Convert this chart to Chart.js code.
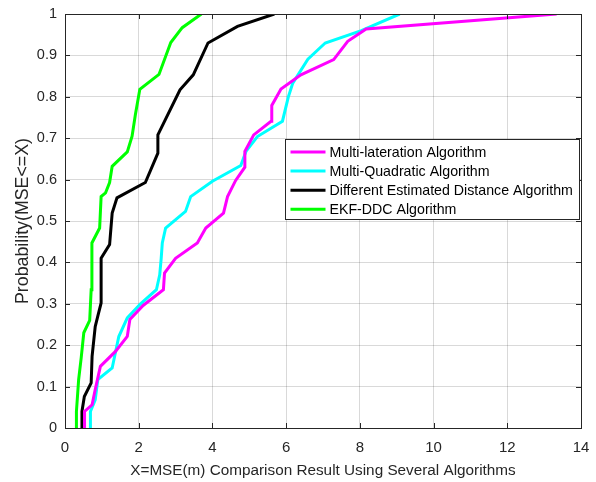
<!DOCTYPE html>
<html>
<head>
<meta charset="utf-8">
<script src="https://cdn.jsdelivr.net/npm/chart.js@4.4.1/dist/chart.umd.min.js"></script>
<style>
  html, body { margin: 0; padding: 0; background: #fff; }
  #wrap { width: 596px; height: 482px; }
</style>
</head>
<body>
<div id="wrap"><canvas id="cdfChart" width="596" height="482"></canvas></div>
<script>
// series names (legend order)
var seriesNames = ['Multi-lateration Algorithm', 'Multi-Quadratic Algorithm',
                   'Different Estimated Distance Algorithm', 'EKF-DDC Algorithm'];
var seriesColors = ['#ff00ff', '#00ffff', '#000000', '#00ff00'];

// Multi-lateration (magenta)
var mlatX = [0.53, 0.53, 0.735, 0.82, 0.96, 1.37, 1.69, 1.76, 2.12, 2.67, 2.70, 3.0, 3.59, 3.82,
             4.30, 4.41, 4.63, 4.88, 4.88, 5.12, 5.59, 5.61, 5.86, 6.40, 7.29, 7.67, 8.17, 13.34];
var mlatY = [0, 0.04, 0.056, 0.093, 0.149, 0.185, 0.221, 0.262, 0.296, 0.334, 0.374, 0.41, 0.447, 0.483,
             0.519, 0.559, 0.598, 0.63, 0.668, 0.708, 0.741, 0.779, 0.819, 0.853, 0.89, 0.934, 0.964, 1.0];

// Multi-Quadratic (cyan)
var mquadX = [0.69, 0.69, 0.82, 0.89, 1.28, 1.46, 1.69, 2.05, 2.48, 2.57, 2.61, 2.64, 2.73, 3.27,
              3.41, 4.0, 4.77, 4.91, 5.22, 5.90, 6.06, 6.18, 6.59, 7.06, 8.04, 9.08];
var mquadY = [0, 0.04, 0.068, 0.117, 0.145, 0.221, 0.266, 0.30, 0.334, 0.37, 0.41, 0.447, 0.483, 0.523,
              0.559, 0.596, 0.634, 0.668, 0.704, 0.741, 0.80, 0.833, 0.891, 0.93, 0.96, 1.0];

// Different Estimated Distance (black)
var dedX = [0.46, 0.46, 0.525, 0.71, 0.735, 0.82, 0.89, 0.98, 0.98, 1.21, 1.28, 1.41, 2.18, 2.52,
            2.52, 3.12, 3.48, 3.88, 4.68, 5.68];
var dedY = [0, 0.04, 0.076, 0.109, 0.173, 0.245, 0.27, 0.302, 0.41, 0.443, 0.519, 0.556, 0.593, 0.664,
            0.708, 0.817, 0.853, 0.93, 0.97, 1.0];

// EKF-DDC (green)
var ekfX = [0.31, 0.31, 0.37, 0.44, 0.51, 0.67, 0.71, 0.73, 0.94, 0.98, 1.10, 1.21, 1.28, 1.69,
            1.82, 1.91, 2.03, 2.55, 2.87, 3.18, 3.70];
var ekfY = [0, 0.04, 0.117, 0.17, 0.23, 0.26, 0.334, 0.447, 0.483, 0.559, 0.568, 0.593, 0.632, 0.667,
            0.705, 0.757, 0.818, 0.854, 0.931, 0.967, 1.0];

var xTitle = 'X=MSE(m) Comparison Result Using Several Algorithms';
var yTitle = 'Probability(MSE<=X)';

var FONT = '"Liberation Sans", Arial, sans-serif';
var AXIS_COLOR = '#262626';

function toPoints(xs, ys) {
    var pts = [];
    for (var i = 0; i < xs.length; i++) {
        pts.push({ x: xs[i], y: ys[i] });
    }
    return pts;
}

var allX = [mlatX, mquadX, dedX, ekfX];
var allY = [mlatY, mquadY, dedY, ekfY];
var datasets = [];
for (var i = 0; i < seriesNames.length; i++) {
    datasets.push({
        label: seriesNames[i],
        data: toPoints(allX[i], allY[i]),
        borderColor: seriesColors[i],
        backgroundColor: seriesColors[i],
        borderWidth: 3,
        pointRadius: 0,
        tension: 0,
        fill: false
    });
}

// box around the axes + inward tick marks, MATLAB style
var boxPlugin = {
    id: 'boxTicks',
    afterDatasetsDraw: function (chart) {
        var ctx = chart.ctx;
        var a = chart.chartArea;
        var xs = chart.scales.x, ys = chart.scales.y;
        ctx.save();
        ctx.strokeStyle = AXIS_COLOR;
        ctx.lineWidth = 1;
        ctx.beginPath();
        xs.ticks.forEach(function (t) {
            var px = Math.round(xs.getPixelForValue(t.value)) + 0.5;
            ctx.moveTo(px, a.bottom); ctx.lineTo(px, a.bottom - 5);
            ctx.moveTo(px, a.top); ctx.lineTo(px, a.top + 5);
        });
        ys.ticks.forEach(function (t) {
            var py = Math.round(ys.getPixelForValue(t.value)) + 0.5;
            ctx.moveTo(a.left, py); ctx.lineTo(a.left + 5, py);
            ctx.moveTo(a.right, py); ctx.lineTo(a.right - 5, py);
        });
        ctx.stroke();
        ctx.strokeRect(Math.round(a.left) + 0.5, Math.round(a.top) + 0.5,
                       Math.round(a.right - a.left), Math.round(a.bottom - a.top));
        ctx.restore();
    }
};

// legend box drawn inside the plot area, right side
var legendPlugin = {
    id: 'insideLegend',
    afterDraw: function (chart) {
        var ctx = chart.ctx;
        var a = chart.chartArea;
        var w = 294, h = 80;
        var left = Math.round(a.right - 2 - w) + 0.5;
        var top = Math.round(a.top + 125) + 0.5;
        ctx.save();
        ctx.fillStyle = '#ffffff';
        ctx.fillRect(left, top, w, h);
        ctx.strokeStyle = AXIS_COLOR;
        ctx.lineWidth = 1;
        ctx.strokeRect(left, top, w, h);
        ctx.font = '14.2px ' + FONT;
        ctx.textBaseline = 'middle';
        ctx.textAlign = 'left';
        for (var i = 0; i < seriesNames.length; i++) {
            var rowY = top + 12.5 + i * 19.1;
            ctx.strokeStyle = seriesColors[i];
            ctx.lineWidth = 3;
            ctx.beginPath();
            ctx.moveTo(left + 5, rowY);
            ctx.lineTo(left + 40, rowY);
            ctx.stroke();
            ctx.fillStyle = '#000000';
            ctx.fillText(seriesNames[i], left + 44, rowY + 1);
        }
        ctx.restore();
    }
};

var ctx = document.getElementById('cdfChart').getContext('2d');
var chart = new Chart(ctx, {
    type: 'line',
    data: { datasets: datasets },
    plugins: [boxPlugin, legendPlugin],
    options: {
        responsive: false,
        animation: false,
        devicePixelRatio: 1,
        layout: { padding: { left: 0, right: 15, top: 14, bottom: 0 } },
        plugins: {
            legend: { display: false },
            tooltip: { enabled: false }
        },
        scales: {
            x: {
                type: 'linear',
                min: 0,
                max: 14,
                ticks: {
                    stepSize: 2,
                    color: AXIS_COLOR,
                    padding: 11,
                    font: { family: FONT, size: 15 }
                },
                grid: { color: 'rgba(0,0,0,0.15)', lineWidth: 1, drawTicks: false },
                border: { display: false },
                title: {
                    display: true,
                    text: xTitle,
                    color: AXIS_COLOR,
                    font: { family: FONT, size: 15.3 },
                    padding: { top: 0, bottom: 2 }
                },
                afterFit: function (scale) {
                    scale.height = 54;
                    scale.paddingLeft = 0;
                    scale.paddingRight = 0;
                }
            },
            y: {
                type: 'linear',
                min: 0,
                max: 1,
                ticks: {
                    stepSize: 0.1,
                    color: AXIS_COLOR,
                    padding: 8,
                    font: { family: FONT, size: 14.5 },
                    callback: function (v) { return String(Math.round(v * 10) / 10); }
                },
                grid: { color: 'rgba(0,0,0,0.15)', lineWidth: 1, drawTicks: false },
                border: { display: false },
                title: {
                    display: true,
                    text: yTitle,
                    color: AXIS_COLOR,
                    font: { family: FONT, size: 17.8 },
                    padding: { top: 12, bottom: 0 }
                },
                afterFit: function (scale) {
                    scale.width = 65;
                    scale.paddingTop = 0;
                    scale.paddingBottom = 0;
                }
            }
        }
    }
});
</script>
</body>
</html>
